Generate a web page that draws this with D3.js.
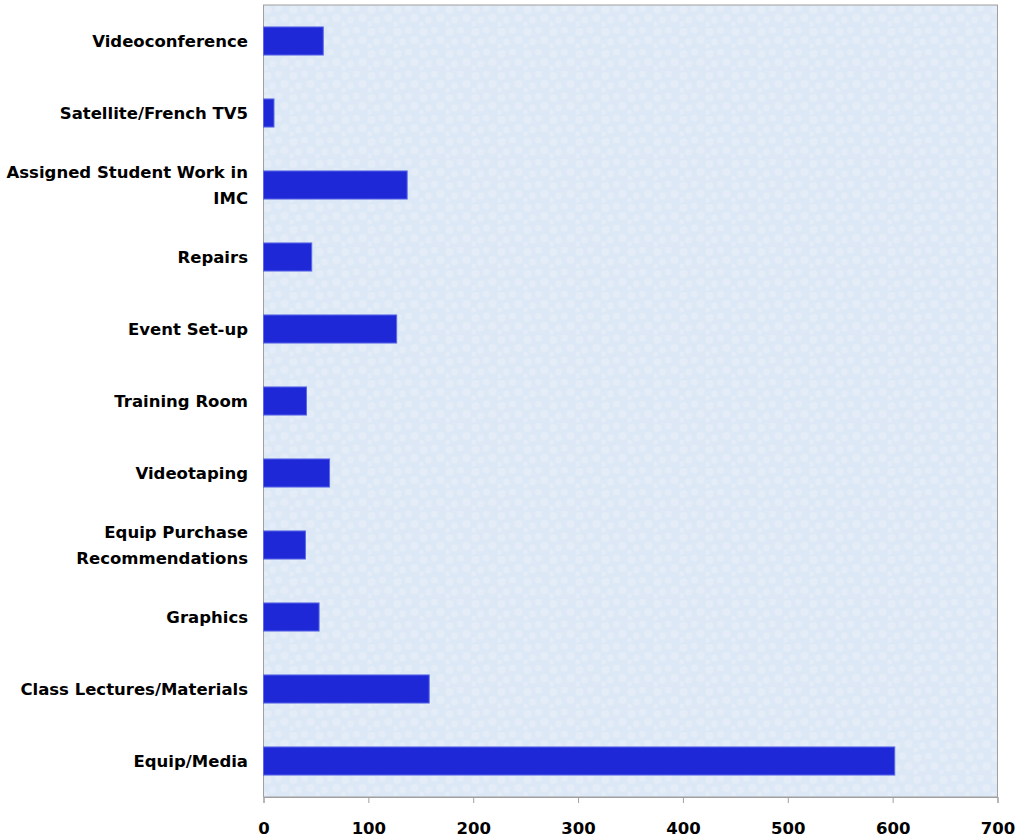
<!DOCTYPE html>
<html>
<head>
<meta charset="utf-8">
<script src="https://cdn.jsdelivr.net/npm/d3@7"></script>
<style>
  html, body { margin: 0; padding: 0; background: #ffffff; }
  svg { display: block; }
  text { font-family: "DejaVu Sans", "Liberation Sans", Arial, sans-serif; font-weight: bold; fill: #000; }
</style>
</head>
<body>
<svg id="chart" width="1018" height="838"></svg>
<script>
// Service request categories, top to bottom
const categories = [
  ["Videoconference"],
  ["Satellite/French TV5"],
  ["Assigned Student Work in", "IMC"],
  ["Repairs"],
  ["Event Set-up"],
  ["Training Room"],
  ["Videotaping"],
  ["Equip Purchase", "Recommendations"],
  ["Graphics"],
  ["Class Lectures/Materials"],
  ["Equip/Media"]
];
// Number of requests per category
const values = [57, 10, 137, 46, 127, 41, 63, 40, 53, 158, 602];
const xTicks = [0, 100, 200, 300, 400, 500, 600, 700];

const svg = d3.select("#chart");
const margin = { left: 263.5, right: 20.5, top: 5, bottom: 41 };
const W = 1018, H = 838;
const innerW = W - margin.left - margin.right;
const innerH = H - margin.top - margin.bottom;

const keys = categories.map(c => c.join(" "));
const x = d3.scaleLinear().domain([0, 700]).range([0, innerW]);
const y = d3.scaleBand().domain(keys).range([0, innerH]).paddingInner(0.61).paddingOuter(0.305);

// Mottled light-blue paper background for the plot area
const defs = svg.append("defs");
const pat = defs.append("pattern")
  .attr("id", "paper").attr("patternUnits", "userSpaceOnUse")
  .attr("width", 26).attr("height", 22);
pat.append("rect").attr("width", 26).attr("height", 22).attr("fill", "#dce8f5");
[[4, 5, 4], [15, 3, 3.5], [21, 13, 4], [9, 15, 3.5], [2, 19, 2.5]].forEach(([cx, cy, r]) => {
  pat.append("circle").attr("cx", cx).attr("cy", cy).attr("r", r).attr("fill", "#e5eef8").attr("opacity", 0.8);
});

const g = svg.append("g").attr("transform", `translate(${margin.left},${margin.top})`);

g.append("rect")
  .attr("width", innerW).attr("height", innerH)
  .attr("fill", "url(#paper)")
  .attr("stroke", "#a0a0a0").attr("stroke-width", 1);

// Bars
g.selectAll("rect.bar")
  .data(values)
  .join("rect")
  .attr("class", "bar")
  .attr("x", x(0))
  .attr("y", (d, i) => y(keys[i]))
  .attr("width", d => x(d) - x(0))
  .attr("height", y.bandwidth())
  .attr("fill", "#1e28d6")
  .attr("stroke", "#5a6ae6")
  .attr("stroke-width", 1);

// X axis
const xAxis = g.append("g")
  .attr("transform", `translate(0,${innerH})`)
  .call(d3.axisBottom(x).tickValues(xTicks).tickSize(6).tickPadding(19).tickFormat(d3.format("d")));
xAxis.select(".domain").attr("stroke", "#a0a0a0");
xAxis.selectAll(".tick line").attr("stroke", "#a0a0a0");
xAxis.selectAll("text")
  .attr("font-size", 16.5)
  .attr("font-family", "DejaVu Sans, Liberation Sans, Arial, sans-serif")
  .attr("font-weight", "bold")
  .attr("fill", "#000");

// Category labels (right-aligned, wrapped where needed)
const lab = svg.append("g");
categories.forEach((lines, i) => {
  const cy = margin.top + y(keys[i]) + y.bandwidth() / 2;
  const lh = 26;
  const t = lab.append("text")
    .attr("x", 248)
    .attr("text-anchor", "end")
    .attr("font-size", 16.5);
  lines.forEach((ln, j) => {
    t.append("tspan")
      .attr("x", 248)
      .attr("y", cy + (j - (lines.length - 1) / 2) * lh)
      .attr("dy", "0.35em")
      .text(ln);
  });
});
</script>
</body>
</html>
